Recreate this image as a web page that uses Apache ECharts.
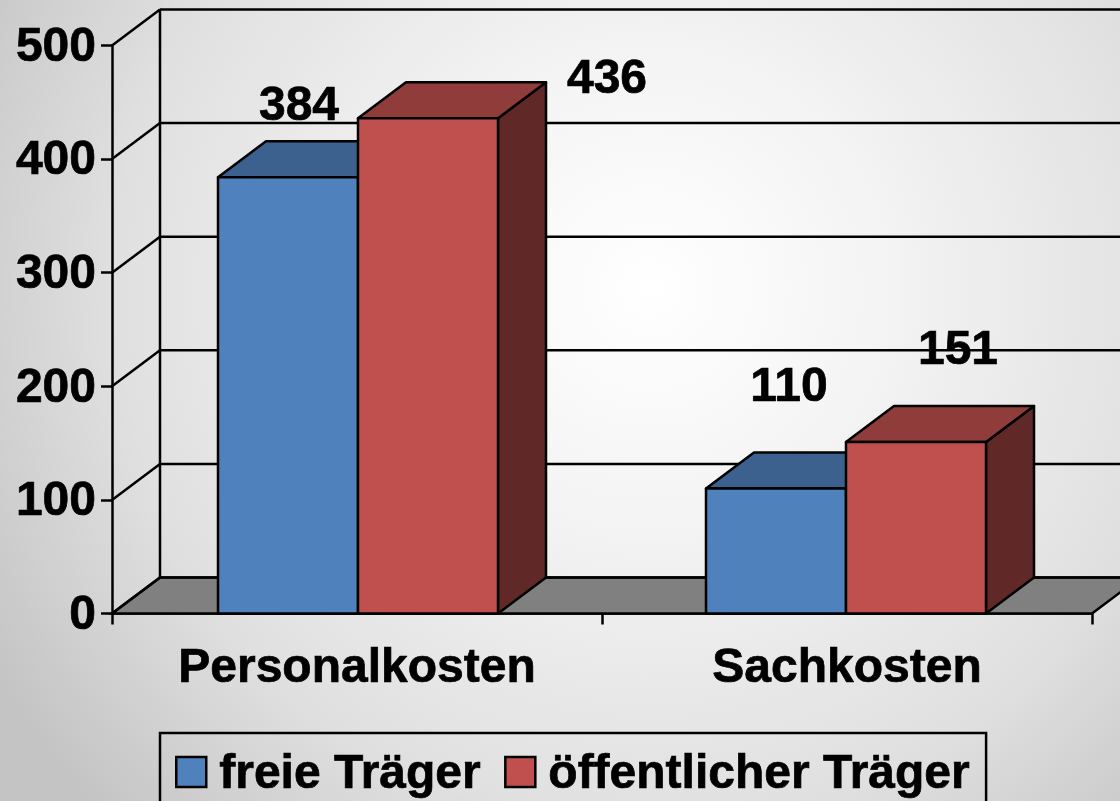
<!DOCTYPE html>
<html>
<head>
<meta charset="utf-8">
<title>Kosten</title>
<style>
html,body{margin:0;padding:0;background:#ddd;overflow:hidden}
#chart{width:1120px;height:801px}
</style>
<script src="https://cdn.jsdelivr.net/npm/echarts@6/dist/echarts.min.js"></script>
</head>
<body>
<div id="chart"></div>
<script>
var categories = ['Personalkosten', 'Sachkosten'];
var seriesNames = ['freie Träger', 'öffentlicher Träger'];
var freieValues = [384, 110];
var oeffentlichValues = [436, 151];
var yTicks = [0, 100, 200, 300, 400, 500];

var font = '"Liberation Sans", Arial, sans-serif';
var depthX = 48, depthY = 36;
var lineW = 2.5;
var textWeight = 0.7;

// labels sit away from the bars in the original, so shift them by hand
var labelShift = [
    [[11, -71], [13, -101]],
    [[179, -38], [42, -91]]
];
// bar groups are pulled in slightly from the band centres
var groupNudge = [1, -1];

function poly(points, fill) {
    return {
        type: 'polygon',
        shape: {points: points},
        style: {fill: fill, stroke: '#000', lineWidth: lineW, lineJoin: 'round'}
    };
}

function line(x1, y1, x2, y2) {
    return {
        type: 'line',
        shape: {x1: x1, y1: y1, x2: x2, y2: y2},
        style: {stroke: '#000', lineWidth: lineW}
    };
}

function renderWall(params, api) {
    var v = api.value(1);
    var p = api.coord([0, v]);
    var left = params.coordSys.x;
    var right = left + params.coordSys.width;
    var y = p[1];
    var kids = [];
    if (v === 0) {
        kids.push({
            type: 'polygon',
            shape: {points: [[left, y], [left + depthX, y - depthY], [right + depthX, y - depthY], [right, y]]},
            style: {fill: '#808080', stroke: '#000', lineWidth: lineW}
        });
        var top = api.coord([0, yTicks[yTicks.length - 1]]);
        kids.push(line(left + depthX, y - depthY, left + depthX, top[1] - depthY));
    }
    kids.push(line(left, y, left + depthX, y - depthY));
    kids.push(line(left + depthX, y - depthY, right + depthX, y - depthY));
    return {type: 'group', children: kids};
}

function barRenderer(seriesPos, front, topCol, side) {
    return function (params, api) {
        var cat = api.value(0);
        var base = api.coord([cat, 0]);
        var tip = api.coord([cat, api.value(1)]);
        var w = api.size([1, 0])[0] * 2 / 7;
        var x0 = base[0] + groupNudge[cat] + (seriesPos - 1) * w;
        var x1 = x0 + w;
        var yb = base[1], yt = tip[1];
        var shift = labelShift[seriesPos][cat];
        return {
            type: 'group',
            children: [
                poly([[x1, yb], [x1 + depthX, yb - depthY], [x1 + depthX, yt - depthY], [x1, yt]], side),
                poly([[x0, yt], [x0 + depthX, yt - depthY], [x1 + depthX, yt - depthY], [x1, yt]], topCol),
                poly([[x0, yb], [x1, yb], [x1, yt], [x0, yt]], front),
                {
                    type: 'text',
                    z2: 50,
                    style: {
                        text: String(api.value(1)),
                        x: (x0 + x1) / 2 + shift[0],
                        y: yt + shift[1],
                        align: 'center',
                        verticalAlign: 'middle',
                        fill: '#000',
                        stroke: '#000',
                        lineWidth: textWeight,
                        font: 'bold 48px ' + font
                    }
                }
            ]
        };
    };
}

function toPairs(values) {
    return values.map(function (v, i) { return [i, v]; });
}

var myChart = echarts.init(document.getElementById('chart'));
var option = {
    animation: false,
    backgroundColor: {
        type: 'radial', x: 0.58, y: 0.36, r: 0.95,
        colorStops: [
            {offset: 0, color: '#ffffff'},
            {offset: 0.3, color: '#f4f4f4'},
            {offset: 0.7, color: '#e0e0e0'},
            {offset: 1, color: '#c4c4c4'}
        ]
    },
    grid: {left: 112, right: 28, top: 45.5, bottom: 187.5},
    legend: {
        left: 160,
        top: 733,
        orient: 'horizontal',
        padding: [12, 16, 20, 15],
        itemGap: 23,
        itemWidth: 30,
        itemHeight: 30,
        icon: 'rect',
        borderColor: '#000',
        borderWidth: 2.5,
        data: seriesNames,
        selectedMode: false,
        itemStyle: {borderColor: '#000', borderWidth: 2.5},
        formatter: '{t|{name}}',
        textStyle: {
            rich: {
                t: {color: '#000', fontFamily: font, fontWeight: 'bold', fontSize: 48, lineHeight: 54,
                    padding: [6, 0, 0, 8], textBorderColor: '#000', textBorderWidth: textWeight}
            }
        }
    },
    xAxis: {
        type: 'category',
        data: categories,
        axisLine: {lineStyle: {color: '#000', width: lineW}},
        axisTick: {show: true, length: 11, lineStyle: {color: '#000', width: lineW}},
        axisLabel: {color: '#000', fontFamily: font, fontWeight: 'bold', fontSize: 48, margin: 31,
            textBorderColor: '#000', textBorderWidth: textWeight}
    },
    yAxis: {
        type: 'value',
        min: 0,
        max: 500,
        interval: 100,
        splitLine: {show: false},
        axisLine: {show: true, lineStyle: {color: '#000', width: lineW}},
        axisTick: {show: true, length: 11, lineStyle: {color: '#000', width: lineW}},
        axisLabel: {
            margin: 16,
            formatter: '{t|{value}}',
            rich: {
                t: {color: '#000', fontFamily: font, fontWeight: 'bold', fontSize: 48, lineHeight: 52,
                    padding: [4, 0, 0, 0], textBorderColor: '#000', textBorderWidth: textWeight}
            }
        }
    },
    series: [
        {
            type: 'custom',
            silent: true,
            z: 1,
            renderItem: renderWall,
            encode: {x: 0, y: 1},
            data: yTicks.map(function (v) { return [0, v]; })
        },
        {
            type: 'custom',
            name: seriesNames[0],
            z: 3,
            itemStyle: {color: '#4F81BD'},
            renderItem: barRenderer(0, '#4F81BD', '#3C618E', '#2F4D71'),
            encode: {x: 0, y: 1},
            data: toPairs(freieValues)
        },
        {
            type: 'custom',
            name: seriesNames[1],
            z: 4,
            itemStyle: {color: '#C0504D'},
            renderItem: barRenderer(1, '#C0504D', '#903C3A', '#602826'),
            encode: {x: 0, y: 1},
            data: toPairs(oeffentlichValues)
        }
    ]
};
myChart.setOption(option);
</script>
</body>
</html>
